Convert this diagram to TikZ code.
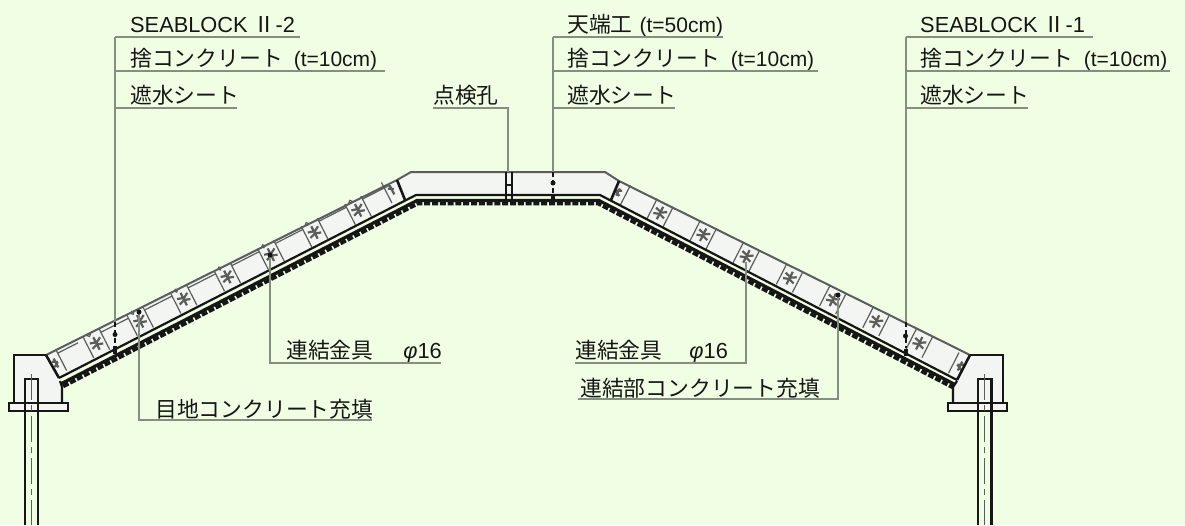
\documentclass[tikz,border=0pt]{standalone}
\usepackage{fontspec}
\setmainfont{Liberation Sans}
\newfontfamily\cjk{Noto Sans CJK JP}
\definecolor{bgc}{HTML}{F0FFE4}
\definecolor{fillc}{HTML}{F3F5F3}
\definecolor{lead}{HTML}{848E81}
\definecolor{ink}{HTML}{161616}
\definecolor{mid}{HTML}{5A5E5A}
\newcommand{\jp}[1]{{\cjk #1}}
\newcommand{\latinpart}[1]{{\fontsize{21}{23}\selectfont #1}}
\tikzset{
  lbl/.style={anchor=base west,inner sep=0pt,text=ink,font=\fontsize{21.8}{24}\selectfont},
  leader/.style={draw=lead,line width=1.1pt},
  strong/.style={draw=ink,line width=2.2pt},
  thin block/.style={draw=mid,line width=1.2pt},
  starline/.style={draw=mid,line width=2.2pt},
  dot/.style={circle,fill=ink,inner sep=0pt,minimum size=5pt},
}
\newcommand{\blockjoint}[1]{%
  \draw[thin block] (-9,-11.5) -- (-9,11.5) (9,-11.5) -- (9,11.5);
  \draw[starline] (0,-7) -- (0,7) (-6,-3) -- (1,-1) -- (6,-4) (-6,3) -- (0,1) -- (6,3);
  #1}
\begin{document}
\begin{tikzpicture}[x=1pt,y=-1pt]
\useasboundingbox[fill=bgc] (0,0) rectangle (1185,525);

% concrete bodies
\fill[fillc] (14,355) -- (46,355) -- (397,180) -- (411,172) -- (605,172) -- (619,181) -- (970,355) -- (1003,355)
  -- (1003,403) -- (953,403) -- (953,387) -- (957,380) -- (611,201) -- (600,195) -- (416,195) -- (405,201) -- (59,378) -- (62,387) -- (62,403) -- (14,403) -- cycle;

% block joints, left slope
\foreach \k in {0,...,6}{
  \begin{scope}[shift={(96.5+43.6*\k,343.5-22.2*\k)},rotate=27]
    \blockjoint{\draw[thin block] (9,-8) -- (39.6,-8);
      \draw[thin block] (-3,-11) circle (1.6);}
  \end{scope}
}
\begin{scope}[shift={(56,363)},rotate=27]
  \draw[thin block] (6,-11.5) -- (6,11.5) (6,-8) -- (29,-8);
  \draw[starline] (0,-5) -- (0,5) (-3,-3) -- (2,0) (-3,3) -- (2,0);
\end{scope}
\begin{scope}[shift={(392,190)},rotate=27]
  \draw[thin block] (-6,-11.5) -- (-6,11.5);
  \draw[starline] (0,-5) -- (0,5) (-3,-3) -- (2,0);
\end{scope}

% block joints, right slope
\foreach \k in {0,...,6}{
  \begin{scope}[shift={(660+43.2*\k,213+21.7*\k)},rotate=-27]
    \blockjoint{}
  \end{scope}
}
\begin{scope}[shift={(618,192)},rotate=-27]
  \draw[thin block] (8,-11.5) -- (8,11.5);
  \draw[starline] (0,-4) -- (0,4) (-3,0) -- (3,-3) (-3,0) -- (3,3);
\end{scope}
\begin{scope}[shift={(960,366)},rotate=-27]
  \draw[thin block] (-7,-11.5) -- (-7,11.5);
  \draw[starline] (0,-5) -- (0,5) (-3,0) -- (3,-3) (-3,0) -- (3,3);
\end{scope}

% outlines of slab and crown
\draw[draw=mid,line width=2pt] (46,355) -- (397,180) -- (411,172) -- (605,172) -- (619,181) -- (970,355);
\draw[strong] (59,378) -- (416,195) -- (600,195) -- (957,380);
\draw[draw=ink,line width=3.2pt] (61.5,383.5) -- (417,200.5) -- (599,200.5) -- (955,384.5);
\draw[draw=ink,line width=4.6pt,dash pattern=on 6pt off 1.8pt] (63,386) -- (418,203) -- (598,203) -- (953,387);
\draw[draw=ink,line width=2.6pt] (397,180) -- (405,200) (619,181) -- (611,200);
\draw[draw=ink,line width=2.6pt] (46,355) -- (59,378) (970,355) -- (957,380);

% crown inspection slit
\draw[strong] (506,172) -- (506,200) (512,172) -- (512,200) (506,185) -- (512,185);

% left footing
\draw[strong,fill=fillc] (9,403) rectangle (68,411);
\draw[strong] (14,403) -- (14,355) -- (46,355);
\draw[strong] (60,381) -- (62,387) -- (62,403);
\draw[strong] (25,525) -- (25,379) -- (38,379) -- (38,525);
\draw[draw=mid,line width=1.2pt,dash pattern=on 26pt off 5pt on 6pt off 5pt] (31.5,374) -- (31.5,525);
% right footing
\draw[strong,fill=fillc] (948,403) rectangle (1007,411);
\draw[strong] (1003,403) -- (1003,355) -- (970,355);
\draw[strong] (957,381) -- (953,387) -- (953,403);
\draw[strong] (978,525) -- (978,379) -- (991.5,379) -- (991.5,525);
\draw[draw=mid,line width=1.2pt,dash pattern=on 26pt off 5pt on 6pt off 5pt] (984.5,374) -- (984.5,525);

% labels
\node[lbl] (a1) at (130,32) {SEABLOCK \jp{Ⅱ}-2};
\node[lbl] (a2) at (130,66) {\jp{捨コンクリート}\hspace{11pt}\latinpart{(t=10cm)}};
\node[lbl] (a3) at (130,103) {\jp{遮水シート}};
\node[lbl] (b0) at (433,103) {\jp{点検孔}};
\node[lbl] (b1) at (567,32) {\jp{天端工}\hspace{7pt}\latinpart{(t=50cm)}};
\node[lbl] (b2) at (567,66) {\jp{捨コンクリート}\hspace{11pt}\latinpart{(t=10cm)}};
\node[lbl] (b3) at (567,103) {\jp{遮水シート}};
\node[lbl] (c1) at (920,32) {SEABLOCK \jp{Ⅱ}-1};
\node[lbl] (c2) at (920,66) {\jp{捨コンクリート}\hspace{11pt}\latinpart{(t=10cm)}};
\node[lbl] (c3) at (920,103) {\jp{遮水シート}};
\node[lbl] (d1) at (286,358) {\jp{連結金具}\hspace{30pt}{\itshape φ}16};
\node[lbl] (d2) at (575,358) {\jp{連結金具}\hspace{27pt}{\itshape φ}16};
\node[lbl] (d3) at (580,396) {\jp{連結部コンクリート充填}};
\node[lbl] (d4) at (155,417) {\jp{目地コンクリート充填}};

% leader corners and ends
\coordinate (p1) at (115,37); \coordinate (p1e) at (300,37);
\coordinate (p2) at (115,71); \coordinate (p2e) at (385,71);
\coordinate (p3) at (115,108); \coordinate (p3e) at (237,108);
\coordinate (p4) at (115,322);
\coordinate (q1) at (553,37); \coordinate (q1e) at (723,37);
\coordinate (q2) at (553,71); \coordinate (q2e) at (818,71);
\coordinate (q3) at (553,108); \coordinate (q3e) at (675,108);
\coordinate (q4) at (553,172);
\coordinate (r1) at (906,37); \coordinate (r1e) at (1093,37);
\coordinate (r2) at (906,71); \coordinate (r2e) at (1170,71);
\coordinate (r3) at (906,108); \coordinate (r3e) at (1028,108);
\coordinate (r4) at (906,322);
\coordinate (s0) at (433,108); \coordinate (s1) at (508,108); \coordinate (s2) at (508,172);
\coordinate (t0) at (270,255); \coordinate (t1) at (270,363); \coordinate (t2) at (441,363);
\coordinate (u0) at (746,262); \coordinate (u1) at (746,363); \coordinate (u2) at (575,363);
\coordinate (v0) at (838,295); \coordinate (v1) at (838,399); \coordinate (v2) at (578,399);
\coordinate (w0) at (139,312); \coordinate (w1) at (139,420); \coordinate (w2) at (372,420);

\draw[leader] (p1) -- (p4) (p1) -- (p1e) (p2) -- (p2e) (p3) -- (p3e);
\draw[leader] (q1) -- (q4) (q1) -- (q1e) (q2) -- (q2e) (q3) -- (q3e);
\draw[leader] (r1) -- (r4) (r1) -- (r1e) (r2) -- (r2e) (r3) -- (r3e);
\draw[leader] (s0) -- (s1) -- (s2);
\draw[leader] (t0) -- (t1) -- (t2);
\draw[leader] (u0) -- (u1) -- (u2);
\draw[leader] (v0) -- (v1) -- (v2);
\draw[leader] (w0) -- (w1) -- (w2);

% dashed continuation inside the concrete, and anchor dots
\draw[draw=ink,line width=1.2pt,dash pattern=on 5pt off 3pt] (115,322) -- (115,346) (553,172) -- (553,194) (906,322) -- (906,348);
\draw[draw=ink,line width=3.5pt] (115,346) -- (115,354) (553,195) -- (553,201) (906,349) -- (906,356);
\node[dot] (n1) at (115,334.5) {};
\node[dot] (n2) at (553,183) {};
\node[dot] (n3) at (905.5,336) {};
\node[dot] (n4) at (139,312) {};
\node[dot] (n5) at (270,255) {};
\node[dot] (n6) at (838,295) {};
\end{tikzpicture}
\end{document}
